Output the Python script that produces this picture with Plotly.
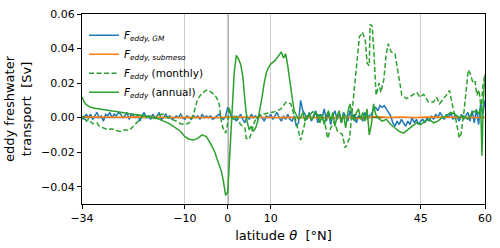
import numpy as np
import plotly.graph_objects as go

# ---------------- data ----------------
# GM eddy transport (x1e-3 Sv), latitude -34..60 step 0.5
lat_gm = [(-34 + 0.5 * i) for i in range(189)]
gm_milli = [
    1, -1, 2, 0, 2, -1, 1, 3, 0, 1, -2, 2, 1, 3, 0, 2, 1, 3, 2, 0,
    1, 3, -1, 2, 1, 0, 2, -2, 1, 3, 0, 1, -1, 2, 0, 1, 3, -1, 0, 2,
    0, 1, -1, 0, 1, 0, 2, 0, -1, 1, 0, -1, 1, 0, 1, -1, 2, 0, 1, 0,
    1, -1, 0, 1, 2, 0, -1, 1, 6, 3, -1, 1, -2, 0, 2, -1, -3, 1, -1, 2,
    0, 1, -1, 2, 0, -2, 1, 0, 2, -1, 1, 3, 0, -2, 1, -1, 2, -1, -2, 1,
    -5, -3, 10, 4, 2, -1, 3, -2, 1, 4, -3, 2, 0, 5, -2, 3, -4, 1, 4, -1,
    2, -3, 3, 0, -2, 4, -1, 2, -3, 1, 0, -2, 3, -1, 1, 2, 5, 6, 4, 7,
    6, 7, 5, 3, 1, -3, -5, -2, -4, -1, -3, -5, -2, -4, 0, -3, -1, -4, -2, -1,
    -3, 0, -2, 1, -1, 2, 0, 3, 1, -1, 2, 0, 3, -1, 1, 0, -2, 2, -1, 1,
    3, -2, 4, -3, 5, -4, 8, 2, 10,
]

# submesoscale eddy transport (x1e-4 Sv), latitude -34..60 step 2
lat_sub = [(-34 + 2 * i) for i in range(48)]
sub_tenth_milli = [
    3, 2, 3, 2, 1, 2, 3, 2, 1, 2, 2, 1, 2, 1, 0, 2, 1, 3, 2, 1,
    2, 1, 2, 1, 2, 1, 2, 1, 2, 0, 1, 2, -3, -5, 6, 3, 1, 4, 2, 1,
    3, 2, 1, 2, 3, 2, 1, 2,
]

# total eddy transport from monthly output (x1e-3 Sv)
lat_mon = [
    -34, -33.5, -33, -32.5, -31.5, -30.5, -30, -29, -28, -27, -26, -25, -24, -23, -22, -21, -20.5, -20,
    -19, -18, -17, -16, -15, -14, -13, -12, -11, -10, -9, -8.5, -8, -7.5, -7, -6, -5, -4.5, -4, -3,
    -2.5, -2, -1.5, -1, -0.5, 0, 0.3, 0.6, 1, 1.5, 2, 2.5, 3, 3.5, 4, 4.3, 5, 5.5, 6, 6.6, 7.5, 8.7,
    10, 11, 12.4, 13.6, 14.7, 15.9, 17, 18.2, 19.8, 21, 22.6, 23.3, 24, 24.9, 25.6, 26.7, 27.4, 28.4,
    29, 29.7, 30.7, 31.4, 32.1, 32.5, 33, 33.2, 33.7, 34.1, 34.6, 35.3, 35.7, 36.4, 36.9, 37.4, 38.1,
    39, 39.9, 40.6, 41.7, 42.2, 43.4, 44.1, 44.8, 45.7, 46.8, 48, 48.7, 49.4, 51, 51.7, 52.6, 53.3,
    54, 54.4, 55.1, 56.1, 56.5, 57.2, 57.7, 58.1, 58.6, 59.1, 59.5, 60,
]
mon_milli = [
    -1, 1, -2, -1, -3.5, -3, -5, -6, -7, -6.5, -7.5, -8, -7, -7.5, -5, -2, -1, 1,
    0, 1, -0.5, 1.5, 2, 0, -1, -2, -3.5, -4, -3, -1, 2, 7, 11, 14, 16, 15.5, 15, 13,
    11, 8, -2, -7, -9, -3, 6, 3, 0, -1, 1, -2, -4, -5, -6, -12, -12.5, -9, -4, -0.5, 1.5, 2.3,
    3, 3.4, 5, 9, 8, -2, -13, -1, 3.4, 1.7, -2.3, -12, -6, -2.3, -8, -9.6, -17.5, -12,
    3.4, 22, 46.7, 49.5, 44.5, 31.5, 30, 54, 53, 37, 13, 20, 14.6, 22, 35.5, 42.8, 38,
    37, 22, 13, 11, 11.8, 13.5, 14.6, 11.8, 13.5, 9, 9, 11.8, 8, 13, 15.8, 5, -2.3,
    -11.8, -9.6, 3.4, 27.6, 26, 20, 21, 13, 16, 5, 18.6, 25,
]

# total eddy transport from annual output (x1e-3 Sv)
lat_ann = [
    -34, -33.5, -33, -32, -31, -30, -29, -28, -27, -26, -25, -24, -23, -22, -21, -20, -19, -18, -17,
    -16, -15, -14, -13, -12, -11, -10, -9, -8, -7, -6, -5, -4, -3, -2.5, -2, -1.5, -1, -0.5, 0, 0.3,
    0.6, 1, 1.5, 2, 2.5, 3, 3.5, 4, 4.5, 5, 5.5, 6, 6.5, 7, 7.5, 8, 8.5, 9, 9.5, 10, 11, 12, 12.5,
    13, 13.5, 14, 14.5, 15, 15.5, 16, 16.5, 17, 17.5, 18, 18.5, 19, 19.5, 20, 20.5, 21, 21.5, 22,
    22.5, 23, 23.5, 24, 24.5, 25, 25.5, 26, 26.5, 27, 27.5, 28, 28.5, 29, 29.5, 30, 30.5, 31, 31.5,
    32, 32.5, 33, 33.5, 34, 34.5, 35, 36, 37, 38, 39, 40, 41, 42, 43, 44, 45, 46, 47, 48, 49, 50,
    51, 52, 53, 54, 55, 56, 57, 58, 58.5, 59, 59.3, 59.6, 60,
]
ann_milli = [
    12, 9, 7.5, 6, 5.5, 5, 4.5, 4, 3.8, 3.5, 3, 2.8, 2.3, 2, 1.8, 1.2, 0.8, 0.3, 0,
    -0.8, -2, -3, -4.5, -6.5, -8, -11, -12.5, -13, -12, -10, -11, -15, -20, -24, -27, -31, -37, -45, -43, -30,
    -12, 8, 26, 36, 34, 31, 24, 10, -2, -7, -5, -8, -6, -2, 4, 12, 20, 26, 29, 31, 33, 36, 38,
    34.5, 37, 30, 20, 12, 4, 1, -1, 0, 3, -2, 1, 2, -1, 0, 3, 1, -3, 2,
    -4, 1, 4, -2, 3, -5, 1, 4, -3, 2, -6, 3, 8, 2, -2, 3, 5, -1, 3,
    -2, 5, -10, -4, 8, 2, 0, -2, -1, -4, -6, -8, -9, -7, -5, -3, -4, -2, -1, -3, -2, 0,
    1, 3, 2, 0, 1, -1, 3, 4, 2, 6, -22, 10, 25,
]

x_ticks = [-34, -10, 0, 10, 45, 60]
y_ticks = [-0.04, -0.02, 0.0, 0.02, 0.04, 0.06]

gm = np.array(gm_milli) * 1e-3
sub = np.array(sub_tenth_milli) * 1e-4
mon = np.array(mon_milli) * 1e-3
ann = np.array(ann_milli) * 1e-3

FONT = "DejaVu Sans"
fig = go.Figure()
fig.add_trace(go.Scatter(x=lat_gm, y=gm, mode="lines", line=dict(color="#1f77b4", width=1.5),
                         name="<i>F</i><sub><i>eddy, GM</i></sub>"))
fig.add_trace(go.Scatter(x=lat_sub, y=sub, mode="lines", line=dict(color="#ff7f0e", width=1.5),
                         name="<i>F</i><sub><i>eddy, submeso</i></sub>"))
fig.add_trace(go.Scatter(x=lat_mon, y=mon, mode="lines",
                         line=dict(color="#2ca02c", width=1.5, dash="5px,2.5px"),
                         name="<i>F</i><sub><i>eddy</i></sub> (monthly)"))
fig.add_trace(go.Scatter(x=lat_ann, y=ann, mode="lines", line=dict(color="#2ca02c", width=1.5),
                         name="<i>F</i><sub><i>eddy</i></sub> (annual)"))

# zero lines
fig.add_shape(type="line", xref="x", yref="paper", x0=0, x1=0, y0=0, y1=1,
              line=dict(color="#333333", width=1.2), layer="below")
fig.add_shape(type="line", xref="paper", yref="y", x0=0, x1=1, y0=0, y1=0,
              line=dict(color="black", width=1), layer="below")

fig.update_layout(
    width=500, height=248,
    margin=dict(l=82, r=11, t=8, b=44),
    paper_bgcolor="white", plot_bgcolor="white",
    font=dict(family=FONT, size=11, color="black"),
    showlegend=True,
    legend=dict(x=0.005, y=0.965, xanchor="left", yanchor="top", bgcolor="rgba(255,255,255,0)",
                font=dict(family=FONT, size=10.5), itemwidth=30, tracegroupgap=0,
                borderwidth=0),
)
fig.update_xaxes(range=[-34, 60], tickvals=x_ticks, ticktext=[("\u2212" + str(-v)) if v < 0 else str(v) for v in x_ticks],
                 showgrid=True, gridcolor="#cccccc", gridwidth=1,
                 showline=True, linecolor="black", linewidth=1.2, mirror=True,
                 ticks="outside", ticklen=4, tickcolor="black", zeroline=False,
                 title=dict(text="latitude <i>θ</i>  [°N]", font=dict(size=13), standoff=6))
fig.update_yaxes(range=[-0.05, 0.06], tickvals=y_ticks, tickformat=".2f",
                 showgrid=False, showline=True, linecolor="black", linewidth=1.2, mirror=True,
                 ticks="outside", ticklen=4, tickcolor="black", zeroline=False,
                 title=dict(text="eddy freshwater<br>transport  [Sv]", font=dict(size=13), standoff=6))

fig.write_html("out.html", config={"displayModeBar": False},
               post_script="document.body.style.margin='0';document.body.style.padding='0';")
